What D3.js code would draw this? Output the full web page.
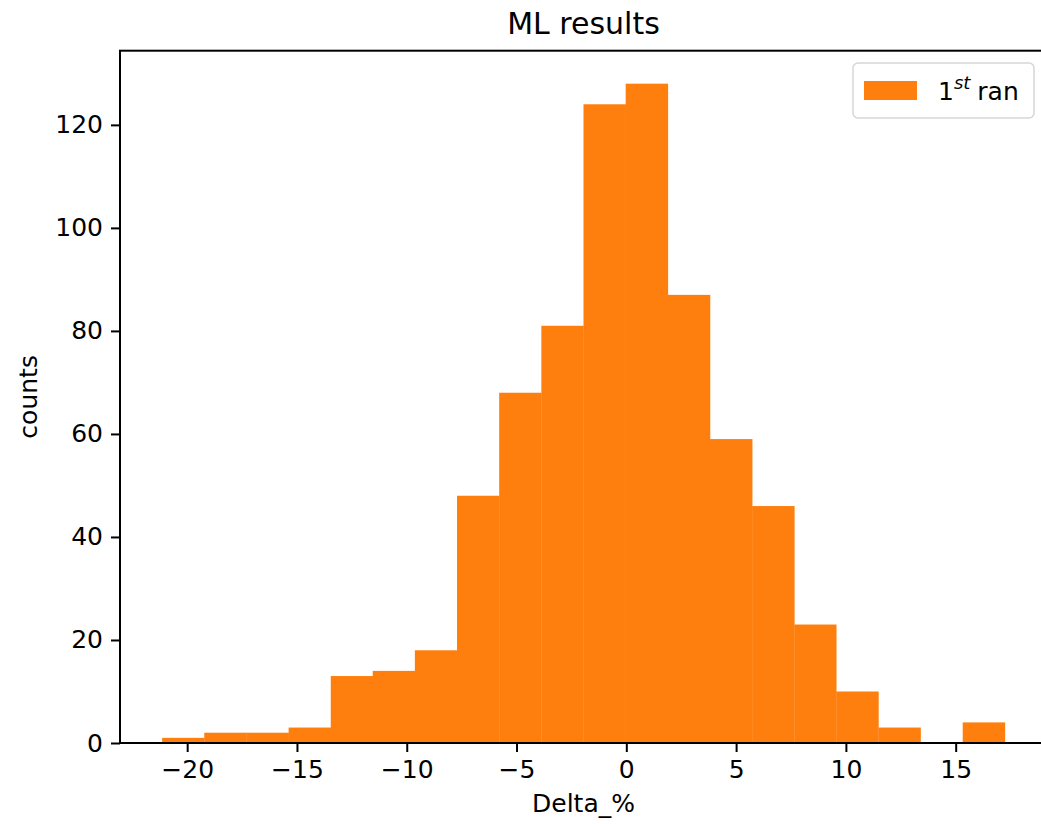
<!DOCTYPE html>
<html>
<head>
<meta charset="utf-8">
<script src="https://cdn.jsdelivr.net/npm/d3@7"></script>
<style>
  body { margin: 0; background: #fff; }
  text { font-family: "DejaVu Sans", sans-serif; fill: #000; }
</style>
</head>
<body>
<div id="chart"></div>
<script>
// histogram bins
const binEdges = [-21.14, -19.22, -17.30, -15.38, -13.46, -11.55, -9.63, -7.71, -5.79, -3.87,
  -1.95, -0.03, 1.89, 3.81, 5.73, 7.65, 9.56, 11.48, 13.40, 15.32, 17.24];
const counts = [1, 2, 2, 3, 13, 14, 18, 48, 68, 81, 124, 128, 87, 59, 46, 23, 10, 3, 0, 4];
const xTicks = [-20, -15, -10, -5, 0, 5, 10, 15];
const yTicks = [0, 20, 40, 60, 80, 100, 120];

const bins = counts.map((c, i) => ({ x0: binEdges[i], x1: binEdges[i + 1], count: c }));

const width = 1041, height = 824;
const axLeft = 120, axRight = 1047, axTop = 50.7, axBottom = 743;
const fontSize = 25;
const orange = "#ff7f0e";

const svg = d3.select("#chart").append("svg")
  .attr("width", width)
  .attr("height", height);

// matplotlib style 5% margins
const lo = binEdges[0], hi = binEdges[binEdges.length - 1];
const pad = (hi - lo) * 0.05;
const x = d3.scaleLinear().domain([lo - pad, hi + pad]).range([axLeft, axRight]);
const yMax = d3.max(counts) * 1.05;
const y = d3.scaleLinear().domain([0, yMax]).range([axBottom, axTop]);

// bars
svg.append("g")
  .selectAll("rect")
  .data(bins.filter(d => d.count > 0))
  .join("rect")
  .attr("x", d => x(d.x0))
  .attr("y", d => y(d.count))
  .attr("width", d => x(d.x1) - x(d.x0) + 0.3)
  .attr("height", d => y(0) - y(d.count))
  .attr("fill", orange);

// axes
const xAxis = svg.append("g")
  .attr("transform", `translate(0,${axBottom})`)
  .call(d3.axisBottom(x).tickValues(xTicks).tickSize(9).tickPadding(8)
    .tickFormat(d => d < 0 ? "\u2212" + Math.abs(d) : d));
const yAxis = svg.append("g")
  .attr("transform", `translate(${axLeft},0)`)
  .call(d3.axisLeft(y).tickValues(yTicks).tickSize(9).tickPadding(8));

[xAxis, yAxis].forEach(g => {
  g.select(".domain").remove();
  g.selectAll(".tick line").attr("stroke", "#000").attr("stroke-width", 2);
  g.selectAll(".tick text")
    .style("font-family", "DejaVu Sans")
    .style("font-size", fontSize + "px")
    .attr("fill", "#000");
});

// spines
svg.append("rect")
  .attr("x", axLeft).attr("y", axTop)
  .attr("width", axRight - axLeft).attr("height", axBottom - axTop)
  .attr("fill", "none")
  .attr("stroke", "#000")
  .attr("stroke-width", 2);

// title and labels
svg.append("text")
  .attr("x", (axLeft + axRight) / 2)
  .attr("y", 34)
  .attr("text-anchor", "middle")
  .style("font-size", "30px")
  .text("ML results");

svg.append("text")
  .attr("x", (axLeft + axRight) / 2)
  .attr("y", 812)
  .attr("text-anchor", "middle")
  .style("font-size", fontSize + "px")
  .text("Delta_%");

svg.append("text")
  .attr("transform", `translate(37,${(axTop + axBottom) / 2}) rotate(-90)`)
  .attr("text-anchor", "middle")
  .style("font-size", fontSize + "px")
  .text("counts");

// legend
const legend = svg.append("g");
legend.append("rect")
  .attr("x", 853).attr("y", 63)
  .attr("width", 181).attr("height", 55)
  .attr("rx", 5)
  .attr("fill", "#fff")
  .attr("fill-opacity", 0.8)
  .attr("stroke", "#d6d6d6")
  .attr("stroke-width", 1.5);
legend.append("rect")
  .attr("x", 864).attr("y", 81)
  .attr("width", 53).attr("height", 19)
  .attr("fill", orange);
const lt = legend.append("text")
  .attr("x", 938).attr("y", 100)
  .style("font-size", fontSize + "px");
lt.append("tspan").text("1");
lt.append("tspan")
  .attr("dy", -11)
  .style("font-size", "18px")
  .style("font-style", "italic")
  .text("st");
lt.append("tspan")
  .attr("dy", 11)
  .attr("dx", 7)
  .text("ran");
</script>
</body>
</html>
